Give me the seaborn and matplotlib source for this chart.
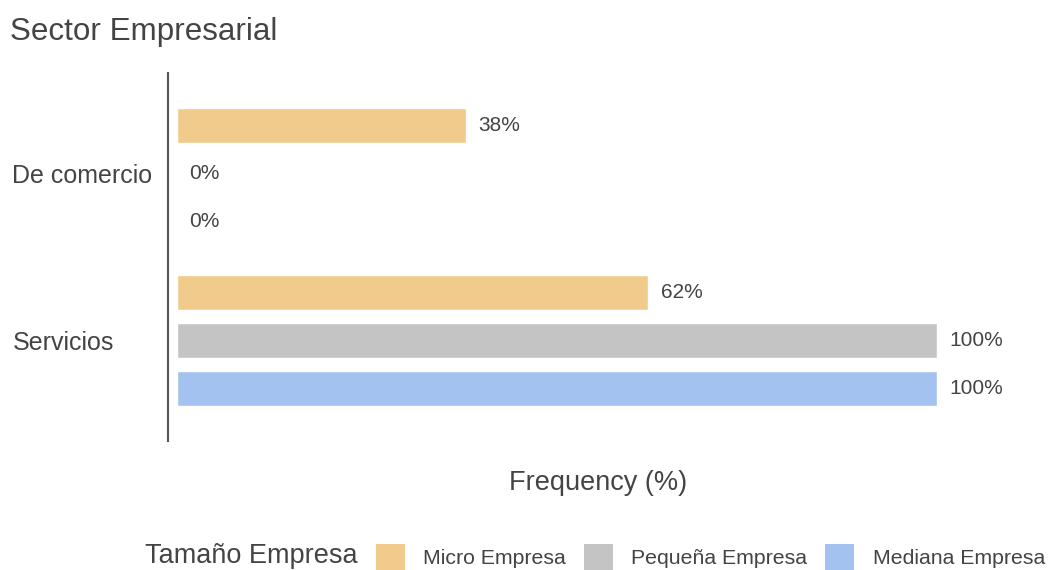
import pandas as pd
import matplotlib.pyplot as plt
import seaborn as sns
from matplotlib.patches import Patch

# ---------- datos ----------
sectores = ['De comercio', 'Servicios']
tamanos = ['Micro Empresa', 'Pequeña Empresa', 'Mediana Empresa']
micro = [38, 62]
pequena = [0, 100]
mediana = [0, 100]
colores = ['#F0CB8B', '#C4C4C4', '#A4C2F0']

df = pd.DataFrame({
    'Sector': sectores * 3,
    'Tamaño': [t for t in tamanos for _ in sectores],
    'Frecuencia': micro + pequena + mediana,
})

sns.set_theme(style='white')
plt.rcParams['font.family'] = ['Liberation Sans', 'DejaVu Sans']
gris = '#444444'

fig = plt.figure(figsize=(10.5, 5.7), dpi=100)
ax = fig.add_axes([0.16, 0.226, 0.805, 0.646])

sns.barplot(data=df, x='Frecuencia', y='Sector', hue='Tamaño',
            order=sectores, hue_order=tamanos, palette=colores, saturation=1,
            orient='h', width=0.86, gap=0.27, legend=False, ax=ax)

for cont in ax.containers:
    ax.bar_label(cont, fmt='%.0f%%', padding=9, fontsize=15, color=gris)

ax.set_xlim(-1.2, 110)
ax.set_ylim(1.6, -0.6)
ax.set_xticks([])
ax.set_xlabel('Frequency (%)', fontsize=19.5, color=gris, labelpad=21)
ax.xaxis.label.set_x(0.509)
ax.set_ylabel('')
ax.tick_params(axis='y', length=0, pad=112, labelsize=18, labelcolor=gris)
for lbl in ax.get_yticklabels():
    lbl.set_horizontalalignment('left')

for s in ['top', 'right', 'bottom']:
    ax.spines[s].set_visible(False)
ax.spines['left'].set_color('#555555')
ax.spines['left'].set_linewidth(1.5)

fig.text(10 / 1050, 1 - 32 / 570, 'Sector Empresarial', fontsize=22.6,
         color=gris, va='center', ha='left')

# leyenda inferior con título a la izquierda
fig.text(145 / 1050, 1 - 556 / 570, 'Tamaño Empresa', fontsize=19.5,
         color=gris, va='center', ha='left')
handles = [Patch(facecolor=c, edgecolor='none', label=t) for c, t in zip(colores, tamanos)]
leg = fig.legend(handles=handles, loc='center left',
                 bbox_to_anchor=(376 / 1050, 1 - 557 / 570), ncol=3,
                 frameon=False, fontsize=15.3, handlelength=1.35, handleheight=1.5,
                 handletextpad=0.88, columnspacing=0.84, borderaxespad=0, borderpad=0)
for t in leg.get_texts():
    t.set_color(gris)

fig.savefig('out.png', dpi=100)
